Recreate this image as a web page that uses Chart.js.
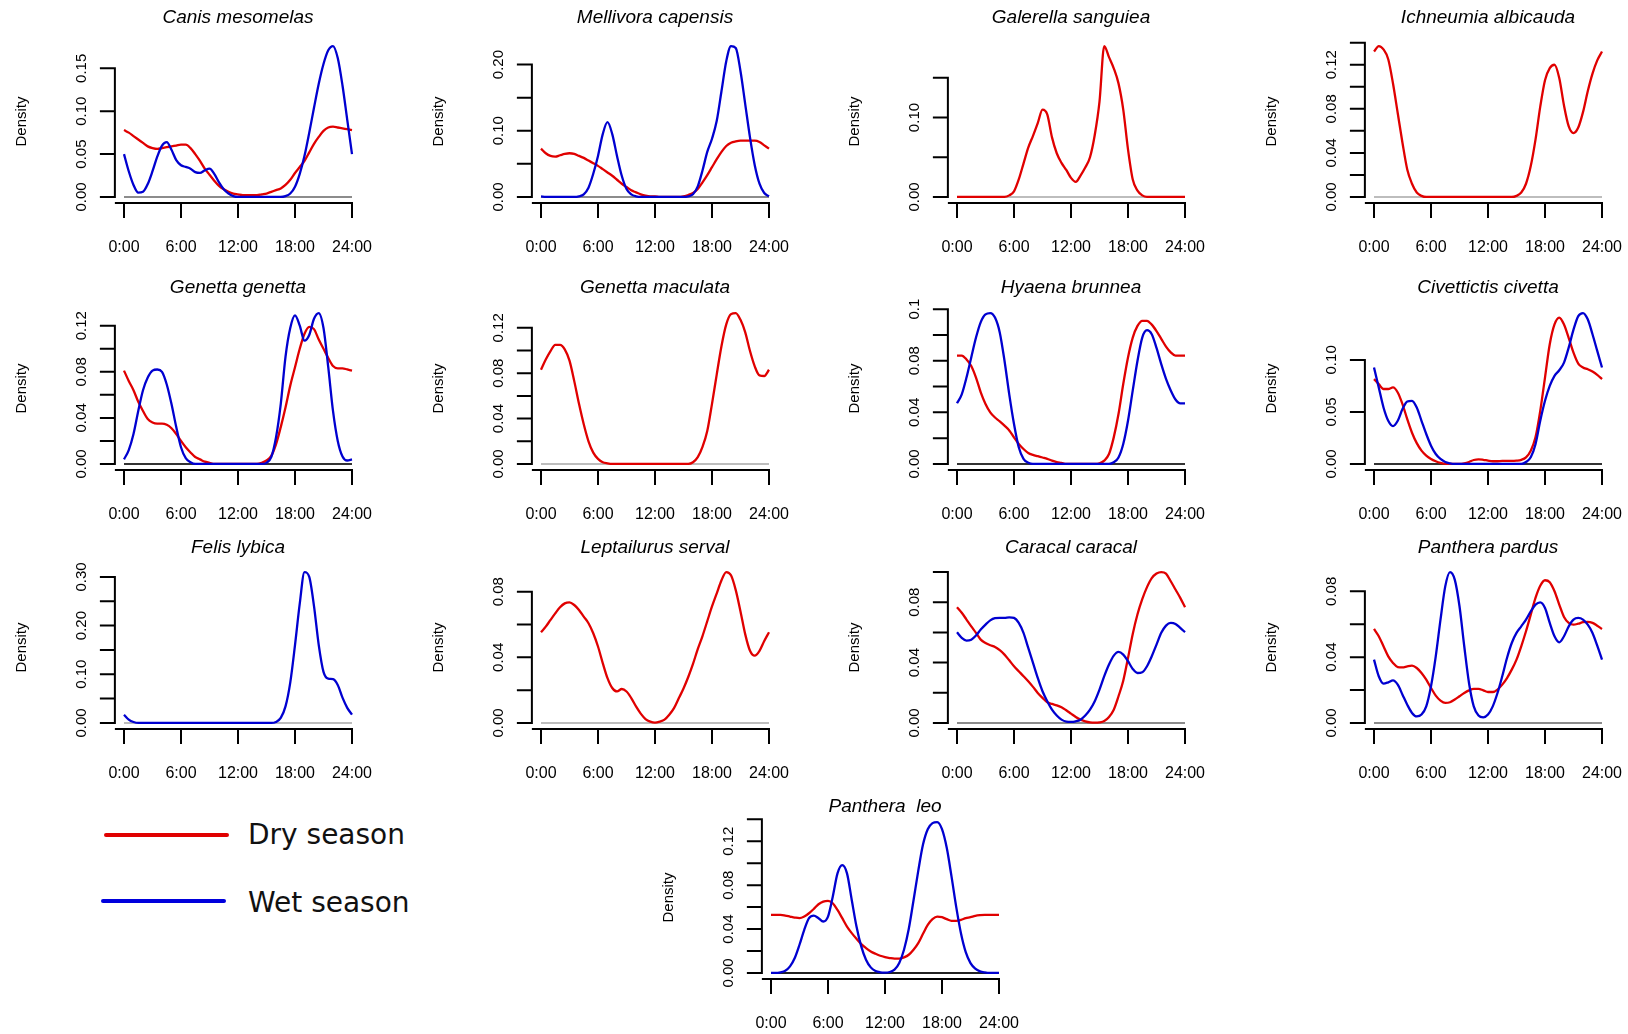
<!DOCTYPE html>
<html lang="en">
<head>
<meta charset="UTF-8">
<title>Activity density by season</title>
<script src="https://cdn.jsdelivr.net/npm/chart.js@4"></script>
<style>
  html, body { margin: 0; padding: 0; background: #fff; overflow: hidden; }
  body { width: 1628px; height: 1034px; position: relative; }
  canvas.panel { position: absolute; }
  .key-line { position: absolute; height: 4px; border-radius: 2px; }
  .key-text { position: absolute; font: 28px/28px "DejaVu Sans", sans-serif; color: #111; white-space: nowrap; }
</style>
</head>
<body>
<div class="key-line" style="left:104px;top:833px;width:125px;background:#e00000"></div>
<div class="key-text" style="left:248px;top:821px">Dry season</div>
<div class="key-line" style="left:101px;top:899px;width:125px;background:#0000dd"></div>
<div class="key-text" style="left:248px;top:889px">Wet season</div>
<script>
// time of day, half-hour steps
const hours = [0,0.5,1,1.5,2,2.5,3,3.5,4,4.5,5,5.5,6,6.5,7,7.5,8,8.5,9,9.5,10,10.5,11,11.5,
  12,12.5,13,13.5,14,14.5,15,15.5,16,16.5,17,17.5,18,18.5,19,19.5,20,20.5,21,21.5,22,22.5,23,23.5,24];
const hourTicks = [0, 6, 12, 18, 24];
const hourLabels = ['0:00', '6:00', '12:00', '18:00', '24:00'];

// density curves
const canisDry = [0.078,0.075,0.071,0.067,0.063,0.059,0.057,0.056,0.057,0.058,0.059,0.060,
  0.061,0.061,0.057,0.050,0.042,0.033,0.026,0.019,0.013,0.009,0.006,0.004,
  0.003,0.002,0.002,0.002,0.002,0.003,0.004,0.006,0.008,0.010,0.014,0.020,
  0.028,0.035,0.042,0.052,0.062,0.070,0.077,0.081,0.082,0.081,0.080,0.079,0.078];
const canisWet = [0.050,0.030,0.014,0.005,0.006,0.015,0.030,0.047,0.060,0.064,0.055,0.043,
  0.037,0.035,0.033,0.029,0.028,0.031,0.033,0.027,0.017,0.009,0.004,0.001,
  0,0,0,0,0,0,0,0,0,0,0.001,0.004,
  0.012,0.027,0.048,0.075,0.104,0.132,0.155,0.171,0.176,0.162,0.130,0.090,0.050];

const mellDry = [0.073,0.066,0.062,0.061,0.063,0.065,0.066,0.065,0.062,0.059,0.055,0.051,
  0.047,0.042,0.037,0.032,0.026,0.020,0.015,0.010,0.007,0.004,0.002,0.001,
  0.001,0,0,0,0,0,0.001,0.003,0.006,0.012,0.022,0.033,
  0.045,0.057,0.068,0.077,0.082,0.084,0.085,0.085,0.085,0.085,0.083,0.078,0.073];
const mellWet = [0.001,0,0,0,0,0,0,0,0.001,0.004,0.014,0.035,
  0.062,0.095,0.113,0.095,0.062,0.032,0.012,0.004,0.001,0,0,0,
  0,0,0,0,0,0,0,0.001,0.004,0.016,0.040,0.068,
  0.088,0.115,0.160,0.205,0.228,0.225,0.190,0.140,0.090,0.048,0.020,0.006,0.001];

const galDry = [0,0,0,0,0,0,0,0,0,0,0,0.002,
  0.007,0.022,0.042,0.062,0.077,0.093,0.110,0.104,0.075,0.055,0.043,0.034,
  0.024,0.019,0.027,0.037,0.050,0.078,0.120,0.190,0.176,0.162,0.143,0.110,
  0.060,0.022,0.008,0.002,0,0,0,0,0,0,0,0,0];

const ichDry = [0.132,0.137,0.134,0.125,0.103,0.076,0.049,0.025,0.012,0.004,0.001,0,
  0,0,0,0,0,0,0,0,0,0,0,0,
  0,0,0,0,0,0,0.001,0.004,0.012,0.028,0.052,0.082,
  0.106,0.117,0.120,0.108,0.083,0.064,0.058,0.063,0.077,0.096,0.112,0.124,0.132];

const genDry = [0.081,0.072,0.064,0.054,0.046,0.039,0.036,0.035,0.035,0.034,0.031,0.026,
  0.020,0.0145,0.010,0.006,0.004,0.002,0.001,0,0,0,0,0,
  0,0,0,0,0,0.001,0.003,0.007,0.017,0.032,0.049,0.068,
  0.084,0.100,0.113,0.119,0.117,0.108,0.100,0.092,0.085,0.083,0.083,0.082,0.081];
const genWet = [0.004,0.012,0.026,0.046,0.064,0.075,0.081,0.082,0.080,0.069,0.052,0.032,
  0.0145,0.005,0.0015,0,0,0,0,0,0,0,0,0,
  0,0,0,0,0,0,0.001,0.006,0.023,0.052,0.093,0.118,
  0.129,0.120,0.107,0.112,0.126,0.131,0.118,0.084,0.046,0.020,0.0065,0.003,0.004];

const macDry = [0.083,0.092,0.0995,0.105,0.105,0.101,0.091,0.073,0.053,0.035,0.020,0.010,
  0.0045,0.0015,0.0005,0,0,0,0,0,0,0,0,0,
  0,0,0,0,0,0,0,0,0.0015,0.006,0.015,0.029,
  0.053,0.079,0.104,0.123,0.132,0.133,0.127,0.116,0.0995,0.086,0.078,0.0775,0.083];

const hyaDry = [0.084,0.084,0.081,0.076,0.067,0.0555,0.0465,0.040,0.036,0.033,0.0297,0.026,
  0.0206,0.0155,0.0116,0.0085,0.007,0.006,0.005,0.004,0.0026,0.0015,0.0008,0,
  0,0,0,0,0,0,0.0005,0.0026,0.0077,0.0206,0.0387,0.062,
  0.0826,0.098,0.107,0.111,0.111,0.108,0.103,0.097,0.091,0.0865,0.084,0.084,0.084];
const hyaWet = [0.047,0.054,0.067,0.0826,0.098,0.110,0.116,0.117,0.1135,0.102,0.080,0.054,
  0.031,0.013,0.004,0.001,0,0,0,0,0,0,0,0,
  0,0,0,0,0,0,0,0,0,0.0013,0.005,0.0155,
  0.0335,0.057,0.080,0.098,0.1037,0.1006,0.090,0.0774,0.066,0.057,0.050,0.047,0.047];

const civDry = [0.0815,0.0767,0.072,0.072,0.0735,0.0687,0.0575,0.043,0.030,0.020,0.0128,0.008,
  0.0048,0.0026,0.001,0,0,0,0,0.0006,0.0019,0.0038,0.0045,0.004,
  0.0032,0.0026,0.0026,0.0029,0.0029,0.0029,0.0032,0.004,0.0064,0.0128,0.0256,0.051,
  0.083,0.115,0.134,0.1406,0.134,0.121,0.107,0.0965,0.0927,0.091,0.0888,0.0856,0.0815];
const civWet = [0.0927,0.0735,0.0543,0.0415,0.0364,0.0415,0.0527,0.060,0.0607,0.0543,0.0415,0.0288,
  0.0176,0.0096,0.0048,0.0019,0.0006,0,0,0,0,0,0,0,
  0,0,0,0,0,0,0,0,0.0019,0.0064,0.019,0.0415,
  0.0607,0.075,0.0847,0.090,0.0974,0.112,0.129,0.142,0.145,0.139,0.1246,0.1086,0.0927];

const felWet = [0.017,0.007,0.002,0,0,0,0,0,0,0,0,0,
  0,0,0,0,0,0,0,0,0,0,0,0,
  0,0,0,0,0,0,0,0,0.002,0.0103,0.034,0.083,
  0.16,0.245,0.31,0.30,0.24,0.16,0.105,0.091,0.09,0.078,0.052,0.031,0.017];

const lepDry = [0.0553,0.0587,0.0628,0.0668,0.0705,0.0729,0.0735,0.0719,0.0689,0.0648,0.0608,0.0547,
  0.0466,0.0365,0.0273,0.0213,0.0192,0.0207,0.0192,0.0152,0.0101,0.0057,0.0024,0.0008,
  0.0002,0.0008,0.002,0.005,0.009,0.015,0.021,0.028,0.036,0.045,0.053,0.062,
  0.071,0.079,0.087,0.092,0.090,0.081,0.068,0.054,0.044,0.041,0.044,0.050,0.0553];

const carDry = [0.0767,0.073,0.0685,0.064,0.0597,0.0552,0.053,0.0515,0.0504,0.0482,0.0453,0.0415,
  0.0376,0.0343,0.031,0.0276,0.0239,0.0199,0.0166,0.0137,0.0126,0.0117,0.0104,0.0084,
  0.0062,0.004,0.0022,0.0011,0.0004,0.0002,0.0004,0.0013,0.004,0.0088,0.0177,0.028,
  0.043,0.059,0.072,0.082,0.090,0.096,0.099,0.100,0.099,0.0939,0.0884,0.0829,0.0767];
const carWet = [0.0601,0.0564,0.0546,0.0552,0.0579,0.0619,0.0652,0.068,0.0694,0.0696,0.0696,0.070,
  0.0696,0.0663,0.0597,0.0497,0.0398,0.0298,0.021,0.0144,0.0088,0.0049,0.0022,0.0009,
  0.0007,0.0011,0.0022,0.0049,0.0088,0.0144,0.0221,0.031,0.0387,0.0446,0.0471,0.0453,
  0.0409,0.0358,0.0331,0.0336,0.0376,0.0442,0.0519,0.0597,0.0645,0.0663,0.0656,0.063,0.0601];

const parDry = [0.0571,0.0527,0.0466,0.0405,0.0365,0.034,0.0338,0.0344,0.0348,0.0334,0.0304,0.0263,
  0.0213,0.0166,0.0136,0.0122,0.0126,0.0142,0.0162,0.0182,0.0198,0.0207,0.0207,0.0198,
  0.0188,0.0188,0.0203,0.0233,0.0273,0.0324,0.0385,0.0466,0.0557,0.0658,0.076,0.0834,
  0.0867,0.0855,0.080,0.0719,0.0644,0.0608,0.0597,0.0603,0.0612,0.0614,0.0608,0.0591,0.0571];
const parWet = [0.0385,0.0284,0.0239,0.0247,0.0259,0.0233,0.0172,0.0111,0.0061,0.004,0.0051,0.0101,
  0.0223,0.0405,0.0628,0.083,0.0917,0.0871,0.0709,0.0466,0.0243,0.0101,0.0045,0.0034,
  0.0051,0.0101,0.0182,0.0284,0.0395,0.0486,0.0547,0.0587,0.0628,0.0678,0.0719,0.0733,
  0.0699,0.0608,0.0527,0.049,0.0527,0.0587,0.0628,0.0638,0.0628,0.0597,0.0547,0.047,0.0385];

const leoDry = [0.0529,0.0529,0.0529,0.0523,0.0514,0.0505,0.0499,0.0514,0.0544,0.0583,0.0626,0.065,
  0.0656,0.0635,0.0574,0.0499,0.0423,0.0363,0.0311,0.0263,0.0227,0.0196,0.0175,0.0157,
  0.0145,0.0136,0.013,0.013,0.0142,0.0166,0.0212,0.0272,0.0357,0.0438,0.049,0.0514,
  0.0508,0.049,0.0475,0.0475,0.0484,0.0499,0.0508,0.052,0.0526,0.0529,0.0529,0.0529,0.0529];
const leoWet = [0,0,0.0006,0.002,0.006,0.0136,0.0257,0.0393,0.0499,0.0523,0.0499,0.0469,
  0.0514,0.0695,0.0907,0.0982,0.0907,0.0665,0.0423,0.0242,0.0121,0.0051,0.0018,0.0006,
  0.0003,0.0009,0.003,0.0091,0.0212,0.040,0.066,0.093,0.117,0.131,0.1365,0.1375,
  0.131,0.114,0.088,0.060,0.036,0.019,0.009,0.004,0.0015,0.0005,0,0,0];

// y ticks and their labels (blank = tick without label)
const ticks05to15 = [0, 0.05, 0.10, 0.15];
const ticks05to20 = [0, 0.05, 0.10, 0.15, 0.20];
const ticks05to10 = [0, 0.05, 0.10];
const ticks05to30 = [0, 0.05, 0.10, 0.15, 0.20, 0.25, 0.30];
const ticks02to08 = [0, 0.02, 0.04, 0.06, 0.08];
const ticks02to10 = [0, 0.02, 0.04, 0.06, 0.08, 0.10];
const ticks02to12 = [0, 0.02, 0.04, 0.06, 0.08, 0.10, 0.12];
const ticks02to14 = [0, 0.02, 0.04, 0.06, 0.08, 0.10, 0.12, 0.14];

const DRY = '#e00000';
const WET = '#0000d0';

const panels = [
  { title: 'Canis mesomelas', dry: canisDry, wet: canisWet, ticks: ticks05to15, labels: ['0.00', '0.05', '0.10', '0.15'], base: '#8c8c8c', col: 0, row: 0 },
  { title: 'Mellivora capensis', dry: mellDry, wet: mellWet, ticks: ticks05to20, labels: ['0.00', '', '0.10', '', '0.20'], base: '#8c8c8c', col: 1, row: 0 },
  { title: 'Galerella sanguiea', dry: galDry, wet: null, ticks: ticks05to15, labels: ['0.00', '', '0.10', ''], base: '#bdbdbd', col: 2, row: 0 },
  { title: 'Ichneumia albicauda', dry: ichDry, wet: null, ticks: ticks02to14, labels: ['0.00', '', '0.04', '', '0.08', '', '0.12', ''], base: '#bdbdbd', col: 3, row: 0 },
  { title: 'Genetta genetta', dry: genDry, wet: genWet, ticks: ticks02to12, labels: ['0.00', '', '0.04', '', '0.08', '', '0.12'], base: '#333', col: 0, row: 1 },
  { title: 'Genetta maculata', dry: macDry, wet: null, ticks: ticks02to12, labels: ['0.00', '', '0.04', '', '0.08', '', '0.12'], base: '#bdbdbd', col: 1, row: 1 },
  { title: 'Hyaena brunnea', dry: hyaDry, wet: hyaWet, ticks: ticks02to12, labels: ['0.00', '', '0.04', '', '0.08', '', '0.1'], base: '#333', col: 2, row: 1 },
  { title: 'Civettictis civetta', dry: civDry, wet: civWet, ticks: ticks05to10, labels: ['0.00', '0.05', '0.10'], base: '#333', col: 3, row: 1 },
  { title: 'Felis lybica', dry: null, wet: felWet, ticks: ticks05to30, labels: ['0.00', '', '0.10', '', '0.20', '', '0.30'], base: '#bdbdbd', col: 0, row: 2 },
  { title: 'Leptailurus serval', dry: lepDry, wet: null, ticks: ticks02to08, labels: ['0.00', '', '0.04', '', '0.08'], base: '#bdbdbd', col: 1, row: 2 },
  { title: 'Caracal caracal', dry: carDry, wet: carWet, ticks: ticks02to10, labels: ['0.00', '', '0.04', '', '0.08', ''], base: '#8c8c8c', col: 2, row: 2 },
  { title: 'Panthera pardus', dry: parDry, wet: parWet, ticks: ticks02to08, labels: ['0.00', '', '0.04', '', '0.08'], base: '#8c8c8c', col: 3, row: 2 },
  { title: 'Panthera  leo', dry: leoDry, wet: leoWet, ticks: ticks02to14, labels: ['0.00', '', '0.04', '', '0.08', '', '0.12', ''], base: '#222', col: 4, row: 3 }
];

// page layout: pixel of 0:00 per column, top of plot region per row
const colX = [124, 541, 957, 1374, 771];
const rowTop = [40, 307, 566, 816];
const titleY = [18, 21, 22, 31];
const W = 390, H = 262;
const areaLeft = 124 - 9.12, areaWidth = 246.24, areaBottom = 203;

// R-style axes, drawn from the chart's own scales
const rAxes = {
  id: 'rAxes',
  beforeDatasetsDraw(chart, args, o) {
    const { ctx, scales: { x, y } } = chart;
    ctx.save();
    ctx.strokeStyle = o.base;
    ctx.lineWidth = 2;
    ctx.beginPath();
    ctx.moveTo(x.getPixelForValue(0), y.getPixelForValue(0));
    ctx.lineTo(x.getPixelForValue(24), y.getPixelForValue(0));
    ctx.stroke();
    ctx.restore();
  },
  afterDraw(chart, args, o) {
    const { ctx, chartArea: a, scales: { x, y } } = chart;
    const x0 = x.getPixelForValue(0);
    ctx.save();
    ctx.strokeStyle = '#000';
    ctx.fillStyle = '#000';
    ctx.lineWidth = 2;
    ctx.beginPath();
    ctx.moveTo(a.left, y.getPixelForValue(0));
    ctx.lineTo(a.left, y.getPixelForValue(o.ticks[o.ticks.length - 1]));
    o.ticks.forEach(t => {
      const py = y.getPixelForValue(t);
      ctx.moveTo(a.left + 1, py);
      ctx.lineTo(a.left - 15, py);
    });
    ctx.moveTo(a.left, a.bottom);
    ctx.lineTo(x.getPixelForValue(24) + 1, a.bottom);
    hourTicks.forEach(h => {
      const px = x.getPixelForValue(h);
      ctx.moveTo(px, a.bottom - 1);
      ctx.lineTo(px, a.bottom + 15);
    });
    ctx.stroke();

    ctx.textAlign = 'center';
    ctx.textBaseline = 'middle';
    ctx.font = '16px "Liberation Sans", Arial, sans-serif';
    hourTicks.forEach((h, i) => ctx.fillText(hourLabels[i], x.getPixelForValue(h), a.bottom + 45));

    ctx.font = '15px "Liberation Sans", Arial, sans-serif';
    o.ticks.forEach((t, i) => {
      if (!o.labels[i]) return;
      ctx.save();
      ctx.translate(x0 - 42, y.getPixelForValue(t));
      ctx.rotate(-Math.PI / 2);
      ctx.fillText(o.labels[i], 0, 0);
      ctx.restore();
    });

    ctx.save();
    ctx.font = '15px "Liberation Sans", Arial, sans-serif';
    ctx.translate(x0 - 102, (a.top + a.bottom) / 2);
    ctx.rotate(-Math.PI / 2);
    ctx.fillText('Density', 0, 0);
    ctx.restore();

    ctx.font = 'italic 19px "Liberation Sans", Arial, sans-serif';
    ctx.fillText(o.title, (a.left + a.right) / 2, o.titleY);
    ctx.restore();
  }
};

const toXY = vals => hours.map((h, i) => ({ x: h, y: vals[i] }));

panels.forEach(p => {
  const cv = document.createElement('canvas');
  cv.className = 'panel';
  cv.width = W;
  cv.height = H;
  cv.style.left = (colX[p.col] - 124) + 'px';
  cv.style.top = (rowTop[p.row] - 40) + 'px';
  document.body.appendChild(cv);

  // wet first so it is drawn on top
  const sets = [];
  if (p.wet) sets.push({ label: 'Wet season', data: toXY(p.wet), borderColor: WET });
  if (p.dry) sets.push({ label: 'Dry season', data: toXY(p.dry), borderColor: DRY });
  const peak = Math.max(...(p.dry || []), ...(p.wet || []));

  new Chart(cv, {
    type: 'line',
    data: { datasets: sets },
    options: {
      responsive: false,
      animation: false,
      devicePixelRatio: 1,
      layout: { padding: { left: areaLeft, right: W - areaLeft - areaWidth, top: 40, bottom: H - areaBottom } },
      elements: {
        point: { radius: 0 },
        line: { borderWidth: 2.3, cubicInterpolationMode: 'monotone', fill: false }
      },
      scales: {
        x: { type: 'linear', display: false, min: -0.96, max: 24.96 },
        y: { type: 'linear', display: false, min: -0.04 * peak, max: 1.04 * peak }
      },
      plugins: {
        legend: { display: false },
        tooltip: { enabled: false },
        rAxes: { title: p.title, ticks: p.ticks, labels: p.labels, base: p.base, titleY: titleY[p.row] }
      }
    },
    plugins: [rAxes]
  });
});
</script>
</body>
</html>
